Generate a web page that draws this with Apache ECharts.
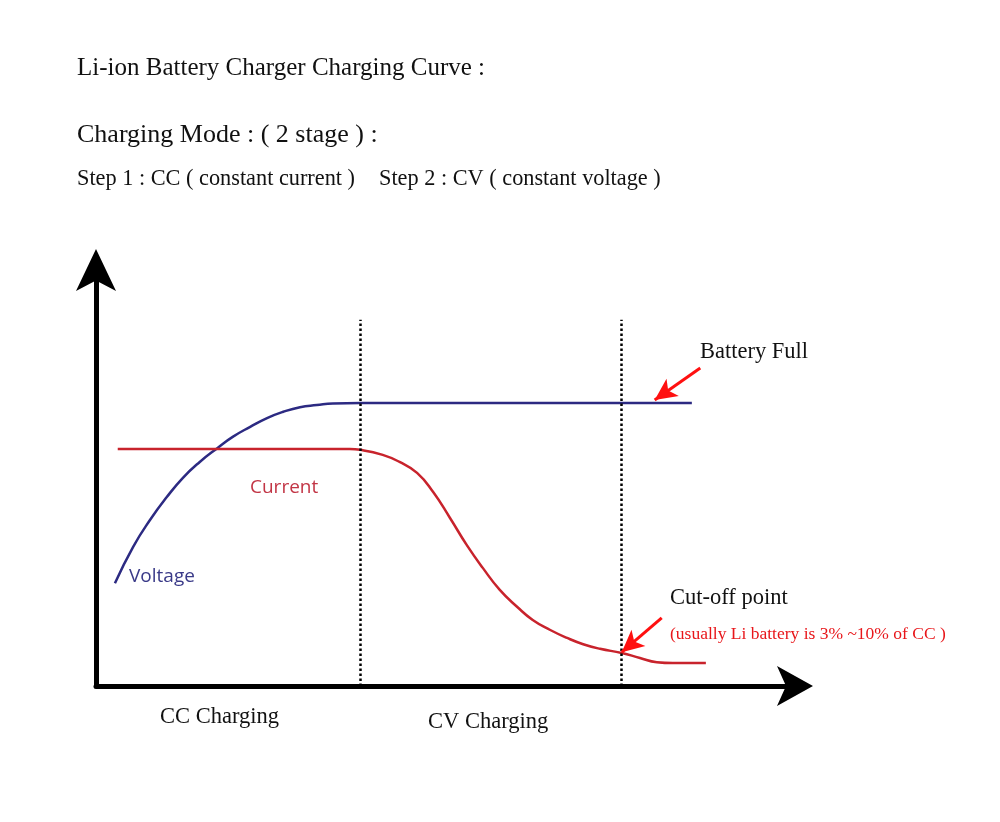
<!DOCTYPE html>
<html>
<head>
<meta charset="utf-8">
<script src="https://cdn.jsdelivr.net/npm/echarts@6/dist/echarts.min.js"></script>
<style>html,body{margin:0;padding:0;background:#fff}#c{width:1000px;height:822px}</style>
</head>
<body>
<div id="c"></div>
<script>
// Voltage curve (x: time, y: level)
var voltageX = [2.7, 5.3, 7.7, 10.1, 12.4, 14.8, 17.3, 19.5, 22.0, 24.4, 26.7, 29.1, 31.5, 33.8, 37.7, 45.0, 55.0, 65.0, 75.0, 85.0];
var voltageY = [24.6, 33.3, 39.7, 45.2, 49.8, 53.6, 56.9, 59.6, 62.0, 64.1, 65.6, 66.7, 67.2, 67.6, 67.7, 67.7, 67.7, 67.7, 67.7, 67.7];
// Current curve
var currentX = [3.1, 10.0, 20.0, 30.0, 36.2, 37.7, 40.9, 43.3, 45.8, 48.1, 50.5, 52.9, 55.2, 57.6, 60.1, 62.3, 64.8, 67.2, 69.5, 71.9, 75.0, 77.6, 80.0, 82.3, 87.0];
var currentY = [56.7, 56.7, 56.7, 56.7, 56.7, 56.5, 55.3, 53.6, 51.0, 46.4, 40.2, 33.7, 28.2, 23.0, 18.9, 15.8, 13.4, 11.5, 10.0, 8.9, 7.9, 6.7, 5.7, 5.5, 5.5];
// Stage boundaries (dotted lines)
var stageX = [37.7, 74.9];
var stageTop = 87.6;
// Annotation arrows [fromX, fromY, toX, toY]
var fullArrow = [86.2, 76.1, 79.7, 68.4];
var cutArrow = [80.7, 16.3, 75.0, 8.1];
// Texts
var titleText = 'Li-ion Battery Charger Charging Curve :';
var modeText = 'Charging Mode : ( 2 stage ) :';
var step1Text = 'Step 1 : CC ( constant current )';
var step2Text = 'Step 2 : CV ( constant voltage )';
var ccLabel = 'CC Charging';
var cvLabel = 'CV Charging';
var fullLabel = 'Battery Full';
var cutLabel = 'Cut-off point';
var noteLabel = '(usually Li battery is 3% ~10% of CC )';
var currentLabel = 'Current';
var voltageLabel = 'Voltage';

function zip(a, b) { return a.map(function (v, i) { return [v, b[i]]; }); }

var chart = echarts.init(document.getElementById('c'));
var serif = 'Liberation Serif, Times New Roman, serif';
var sans = 'Open Sans, Noto Sans, sans-serif';

function txt(text, x, y, size, color, family) {
  return { type: 'text', x: x, y: y, silent: true,
    style: { text: text, font: size + 'px ' + family, fill: color, verticalAlign: 'middle', align: 'left' } };
}

var stageLines = stageX.map(function (x) {
  return [{ coord: [x, 0] }, { coord: [x, stageTop] }];
});

chart.setOption({
  backgroundColor: '#ffffff',
  animation: false,
  grid: { left: 96, right: 203, top: 268, bottom: 136 },
  xAxis: {
    type: 'value', min: 0, max: 100,
    axisLine: { show: true, symbol: ['none', 'arrow'], symbolSize: [30, 36], symbolOffset: [0, 16], lineStyle: { color: '#000', width: 5 } },
    axisTick: { show: false }, axisLabel: { show: false }, splitLine: { show: false }
  },
  yAxis: {
    type: 'value', min: 0, max: 100,
    axisLine: { show: true, symbol: ['none', 'arrow'], symbolSize: [30, 42], symbolOffset: [0, 19], lineStyle: { color: '#000', width: 5 } },
    axisTick: { show: false }, axisLabel: { show: false }, splitLine: { show: false }
  },
  series: [
    {
      name: 'Voltage', type: 'line', data: zip(voltageX, voltageY), smooth: 0.5,
      showSymbol: false, lineStyle: { color: '#2c2a82', width: 2.5 }, z: 3
    },
    {
      name: 'Current', type: 'line', data: zip(currentX, currentY), smooth: 0.5,
      showSymbol: false, lineStyle: { color: '#c8232c', width: 2.5 }, z: 3,
      markLine: {
        silent: true, symbol: ['none', 'none'], label: { show: false },
        lineStyle: { color: '#000', width: 2.5, type: [2.5, 2.5] },
        data: stageLines
      }
    },
    {
      name: 'arrows', type: 'line', data: [], z: 5,
      markLine: {
        silent: true, symbol: ['none', 'arrow'], symbolSize: [16, 22], label: { show: false },
        lineStyle: { color: '#ff1010', width: 3, type: 'solid' },
        data: [
          [{ coord: [fullArrow[0], fullArrow[1]] }, { coord: [fullArrow[2], fullArrow[3]] }],
          [{ coord: [cutArrow[0], cutArrow[1]] }, { coord: [cutArrow[2], cutArrow[3]] }]
        ]
      }
    }
  ],
  graphic: [
    txt(titleText, 77, 68, 25, '#111', serif),
    txt(modeText, 77, 135, 26, '#111', serif),
    txt(step1Text, 77, 179, 22.3, '#111', serif),
    txt(step2Text, 379, 179, 22.3, '#111', serif),
    txt(ccLabel, 160, 717, 22.5, '#111', serif),
    txt(cvLabel, 428, 722, 22.5, '#111', serif),
    txt(fullLabel, 700, 352, 22.5, '#111', serif),
    txt(cutLabel, 670, 598, 22.5, '#111', serif),
    txt(noteLabel, 670, 634, 17.5, '#e8161a', serif),
    txt(currentLabel, 250, 488, 19, '#c23545', sans),
    txt(voltageLabel, 129, 577, 19, '#3a3a88', sans)
  ]
});
</script>
</body>
</html>
